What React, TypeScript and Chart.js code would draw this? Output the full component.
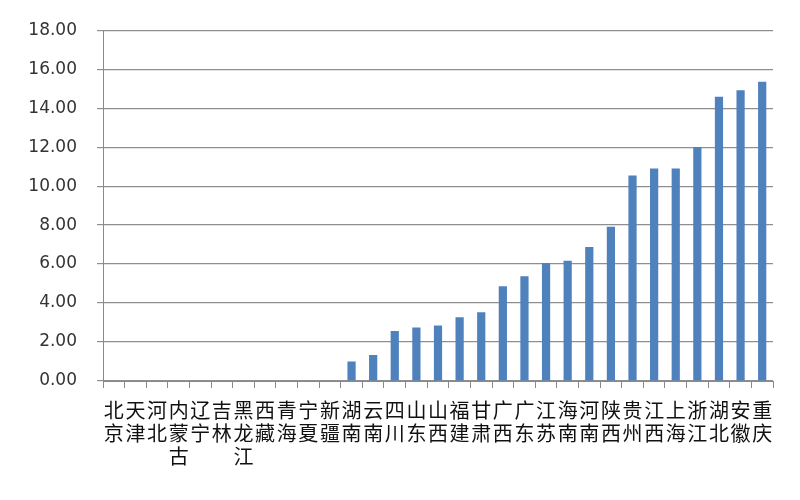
import React, { useEffect, useRef } from "react";
import { Chart, registerables } from "chart.js";

Chart.register(...registerables);

const provinces: string[] = [
  "北京", "天津", "河北", "内蒙古", "辽宁", "吉林", "黑龙江", "西藏", "青海", "宁夏", "新疆",
  "湖南", "云南", "四川", "山东", "山西", "福建", "甘肃", "广西", "广东",
  "江苏", "海南", "河南", "陕西", "贵州", "江西", "上海", "浙江", "湖北", "安徽", "重庆",
];

const values: number[] = [
  0, 0, 0, 0, 0, 0, 0, 0, 0, 0, 0,
  1.0, 1.33, 2.57, 2.74, 2.85, 3.27, 3.53, 4.86, 5.38,
  6.05, 6.17, 6.87, 7.92, 10.55, 10.9, 10.9, 12.01, 14.58, 14.92, 15.35,
];

const yMin = 0;
const yMax = 18;
const yStep = 2;

export default function App() {
  const ref = useRef<HTMLCanvasElement | null>(null);

  useEffect(() => {
    if (!ref.current) return;
    const chart = new Chart(ref.current, {
      type: "bar",
      data: {
        labels: provinces.map((p) => p.split("")),
        datasets: [
          {
            data: values,
            backgroundColor: "#4F81BD",
            borderWidth: 0,
            barPercentage: 0.38,
            categoryPercentage: 1,
          },
        ],
      },
      options: {
        responsive: false,
        animation: false,
        layout: { padding: { left: 0, right: 27, top: 29, bottom: 0 } },
        plugins: { legend: { display: false }, tooltip: { enabled: false } },
        scales: {
          x: {
            grid: {
              display: true,
              drawOnChartArea: false,
              drawTicks: true,
              tickLength: 7,
              color: "#8a8a8a",
              offset: true,
            },
            border: { color: "#8a8a8a", width: 1 },
            ticks: {
              color: "#111",
              font: { family: "'Noto Sans CJK SC'", size: 20, lineHeight: 1.15 },
              padding: 11,
              maxRotation: 0,
              minRotation: 0,
              autoSkip: false,
            },
            afterFit: (s: any) => {
              s.height = 119;
            },
          },
          y: {
            min: yMin,
            max: yMax,
            grid: {
              color: "#8f8f8f",
              lineWidth: 1.2,
              tickLength: 6,
              drawTicks: true,
            },
            border: { color: "#8a8a8a", width: 1 },
            ticks: {
              stepSize: yStep,
              color: "#333",
              font: { family: "'DejaVu Sans'", size: 17 },
              padding: 20,
              callback: (v: any) => Number(v).toFixed(2),
            },
            afterFit: (s: any) => {
              s.width = 103;
            },
          },
        },
      },
    });
    return () => chart.destroy();
  }, []);

  return (
    <div style={{ position: "fixed", left: 0, top: 0, width: 800, height: 500, background: "#fff" }}>
      <canvas ref={ref} width={800} height={500} style={{ display: "block" }} />
    </div>
  );
}
